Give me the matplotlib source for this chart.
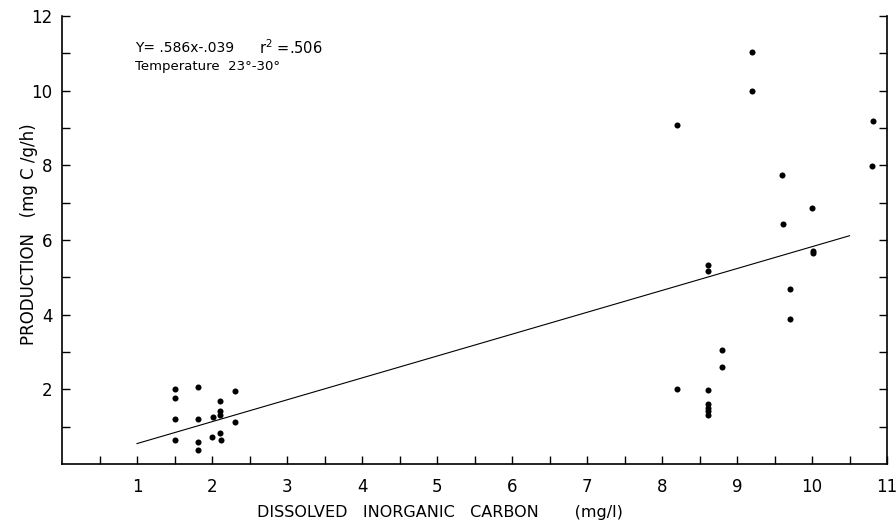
import matplotlib
matplotlib.use("Agg")
import matplotlib.pyplot as plt
import numpy as np

plt.rcParams['font.family'] = ['DejaVu Sans']
plt.rcParams['mathtext.fontset'] = 'dejavusans'

# Dissolved inorganic carbon (mg/l) and production (mg C/g/h)
dic = [1.50, 1.50, 1.50, 1.50,
       1.81, 1.81, 1.81, 1.81,
       2.01, 2.00,
       2.10, 2.11, 2.11, 2.10, 2.12,
       2.31, 2.31,
       8.20, 8.20,
       8.61, 8.61, 8.61, 8.61, 8.61, 8.61, 8.61,
       8.80, 8.80,
       9.20, 9.20,
       9.60, 9.61,
       9.70, 9.70,
       10.00, 10.01, 10.01,
       10.81, 10.80]
production = [2.02, 1.76, 1.20, 0.65,
              2.07, 1.20, 0.60, 0.37,
              1.25, 0.73,
              1.68, 1.43, 1.30, 0.82, 0.63,
              1.96, 1.13,
              9.08, 2.02,
              5.33, 5.17, 1.98, 1.60, 1.50, 1.42, 1.31,
              3.05, 2.59,
              11.03, 9.99,
              7.74, 6.43,
              4.68, 3.89,
              6.87, 5.70, 5.65,
              9.19, 7.97]

slope = 0.586
intercept = -0.039
line_x = [1.0, 10.5]

x_ticklabels = ['1', '2', '3', '4', '5', '6', '7', '8', '9', '10', '11']
y_ticklabels = ['2', '4', '6', '8', '10', '12']

W, H = 896, 521
L, R, B, T = 62, 887, 464, 16
fig = plt.figure(figsize=(W/100, H/100), dpi=100)
ax = fig.add_axes([L/W, 1 - B/H, (R-L)/W, (B-T)/H])

ax.scatter(dic, production, s=19, color='black', zorder=3, linewidths=0)
lx = np.array(line_x)
ax.plot(lx, slope * lx + intercept, color='black', lw=0.8)

ax.set_xlim(0, 11)
ax.set_ylim(0, 12)

ax.spines['top'].set_visible(False)
for s in ['left', 'bottom', 'right']:
    ax.spines[s].set_linewidth(1.2)

ax.set_xticks(range(1, 12))
ax.set_xticklabels(x_ticklabels)
ax.set_xticks(np.arange(0.5, 11, 1.0), minor=True)
ax.set_yticks(range(2, 13, 2))
ax.set_yticklabels(y_ticklabels)
ax.set_yticks(range(1, 12, 2), minor=True)

ax.tick_params(axis='x', which='both', direction='in', length=6, width=1.0,
               pad=10, labelsize=12)
ax.tick_params(axis='y', which='both', direction='in', length=6, width=1.0,
               pad=7, labelsize=12, right=True)

ax.set_xlabel('DISSOLVED   INORGANIC   CARBON       (mg/l)', fontsize=11.5)
ax.xaxis.set_label_coords((440 - L) / (R - L), -(512 - B) / (B - T), transform=ax.transAxes)
ax.xaxis.label.set_va('center')
ax.set_ylabel('PRODUCTION   (mg C /g/h)', fontsize=12)
ax.yaxis.set_label_coords(-(L - 29) / (R - L), (B - 234) / (B - T), transform=ax.transAxes)
ax.yaxis.label.set_va('center')

ax.text(0.97, 11.14, 'Y= .586x-.039', fontsize=10, va='center', ha='left')
ax.text(2.62, 11.14, 'r$^{2}$ =.506', fontsize=10.5, va='center', ha='left')
ax.text(0.97, 10.66, 'Temperature  23°-30°', fontsize=9.5, va='center', ha='left')

fig.savefig('out.png', dpi=100)
